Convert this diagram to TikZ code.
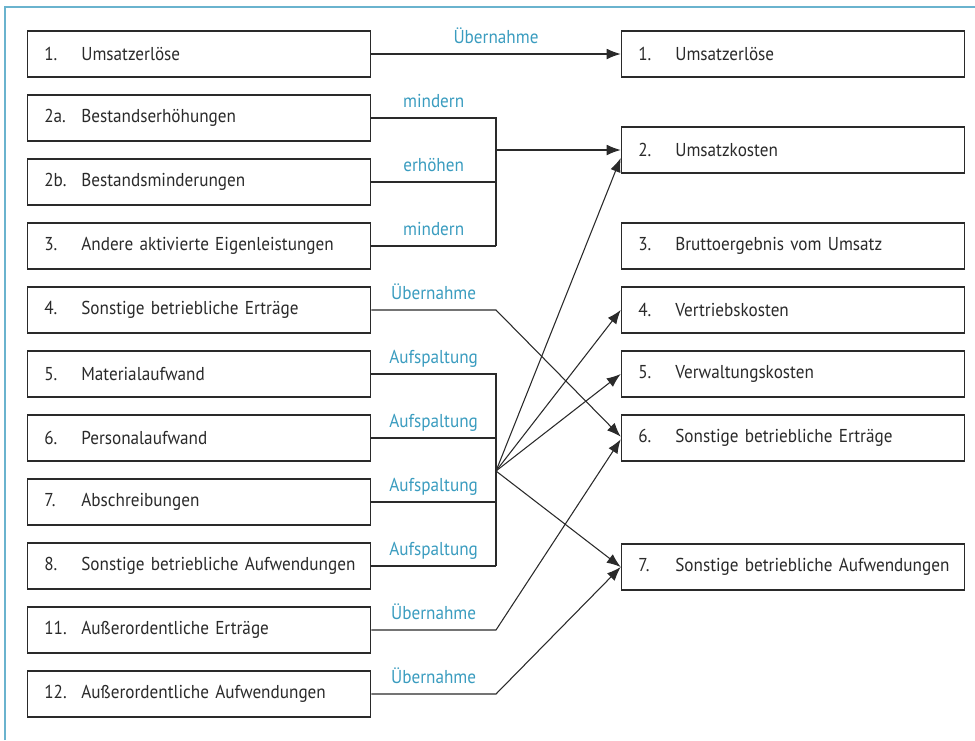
\documentclass[tikz,border=0pt]{standalone}
\usepackage{fontspec}
\setmainfont{PT Sans}[FakeStretch=0.92]
\usetikzlibrary{arrows.meta}
\usetikzlibrary{positioning}

\definecolor{labelblue}{HTML}{3A9CBF}
\definecolor{frameblue}{HTML}{6AB3CE}
\definecolor{linegray}{HTML}{2A2A2A}

\newcommand{\posten}[2]{\mbox{\makebox[27.75pt][l]{#1}#2}}

\tikzset{
  konto/.style={draw=linegray, line width=0.9pt, minimum height=34.5pt,
    inner xsep=12.75pt, text width=232pt, align=left, text=linegray,
    font=\fontsize{14}{16}\selectfont},
  verb/.style={draw=linegray, line width=0.8pt},
  pfeil/.style={verb, -{Latex[length=10.5pt, width=8pt]}},
  lab/.style={anchor=base, yshift=8pt, text=labelblue, inner sep=0pt,
    font=\fontsize{14}{16}\selectfont}
}

\begin{document}
\begin{tikzpicture}[x=0.75pt, y=-0.75pt]
  \useasboundingbox (0,0) rectangle (975,740);

  % frame
  \draw[frameblue, line width=1.3pt] (5,740) -- (5,7) -- (975,7);

  % left column: Gesamtkostenverfahren
  \node[konto] (l1)  at (199,54)  {\posten{1.}{Umsatzerlöse}};
  \node[konto] (l2a) at (199,118) {\posten{2a.}{Bestandserhöhungen}};
  \node[konto] (l2b) at (199,182) {\posten{2b.}{Bestandsminderungen}};
  \node[konto] (l3)  at (199,246) {\posten{3.}{Andere aktivierte Eigenleistungen}};
  \node[konto] (l4)  at (199,310) {\posten{4.}{Sonstige betriebliche Erträge}};
  \node[konto] (l5)  at (199,374) {\posten{5.}{Materialaufwand}};
  \node[konto] (l6)  at (199,438) {\posten{6.}{Personalaufwand}};
  \node[konto] (l7)  at (199,502) {\posten{7.}{Abschreibungen}};
  \node[konto] (l8)  at (199,566) {\posten{8.}{Sonstige betriebliche Aufwendungen}};
  \node[konto] (l11) at (199,630) {\posten{11.}{Außerordentliche Erträge}};
  \node[konto] (l12) at (199,694) {\posten{12.}{Außerordentliche Aufwendungen}};

  % right column: Umsatzkostenverfahren
  \node[konto] (r1) at (793,54)  {\posten{1.}{Umsatzerlöse}};
  \node[konto] (r2) at (793,150) {\posten{2.}{Umsatzkosten}};
  \node[konto] (r3) at (793,246) {\posten{3.}{Bruttoergebnis vom Umsatz}};
  \node[konto] (r4) at (793,310) {\posten{4.}{Vertriebskosten}};
  \node[konto] (r5) at (793,374) {\posten{5.}{Verwaltungskosten}};
  \node[konto] (r6) at (793,438) {\posten{6.}{Sonstige betriebliche Erträge}};
  \node[konto] (r7) at (793,567) {\posten{7.}{Sonstige betriebliche Aufwendungen}};

  % junctions
  \coordinate (bestand) at (496,150);
  \coordinate (aufteil) at (496,471);

  % Umsatzerloese
  \draw[pfeil] (l1.east) -- node[lab] {Übernahme} (r1.west);

  % Bestandsveraenderungen
  \draw[verb] (l2a.east) -- node[lab] {mindern} (l2a.east -| bestand)
    -- (l3.east -| bestand);
  \draw[verb] (l2b.east) -- node[lab] {erhöhen} (l2b.east -| bestand);
  \draw[verb] (l3.east) -- node[lab] {mindern} (l3.east -| bestand);
  \draw[pfeil] (bestand) -- (r2.west);

  % Aufwandsarten
  \draw[verb] (l5.east) -- node[lab] {Aufspaltung} (l5.east -| aufteil)
    -- (l8.east -| aufteil);
  \draw[verb] (l6.east) -- node[lab] {Aufspaltung} (l6.east -| aufteil);
  \draw[verb] (l7.east) -- node[lab] {Aufspaltung} (l7.east -| aufteil);
  \draw[verb] (l8.east) -- node[lab] {Aufspaltung} (l8.east -| aufteil);
  \draw[pfeil] (aufteil) -- ([yshift=-6pt]r2.west);
  \draw[pfeil] (aufteil) -- (r4.west);
  \draw[pfeil] (aufteil) -- (r5.west);
  \draw[pfeil] (aufteil) -- (r7.west);

  % Uebernahmen
  \draw[pfeil] (l4.east) -- node[lab] {Übernahme} (l4.east -| aufteil)
    -- ([yshift=1pt]r6.west);
  \draw[pfeil] (l11.east) -- node[lab] {Übernahme} (l11.east -| aufteil)
    -- ([yshift=-1pt]r6.west);
  \draw[pfeil] (l12.east) -- node[lab] {Übernahme} (l12.east -| aufteil)
    -- (r7.west);
\end{tikzpicture}
\end{document}
